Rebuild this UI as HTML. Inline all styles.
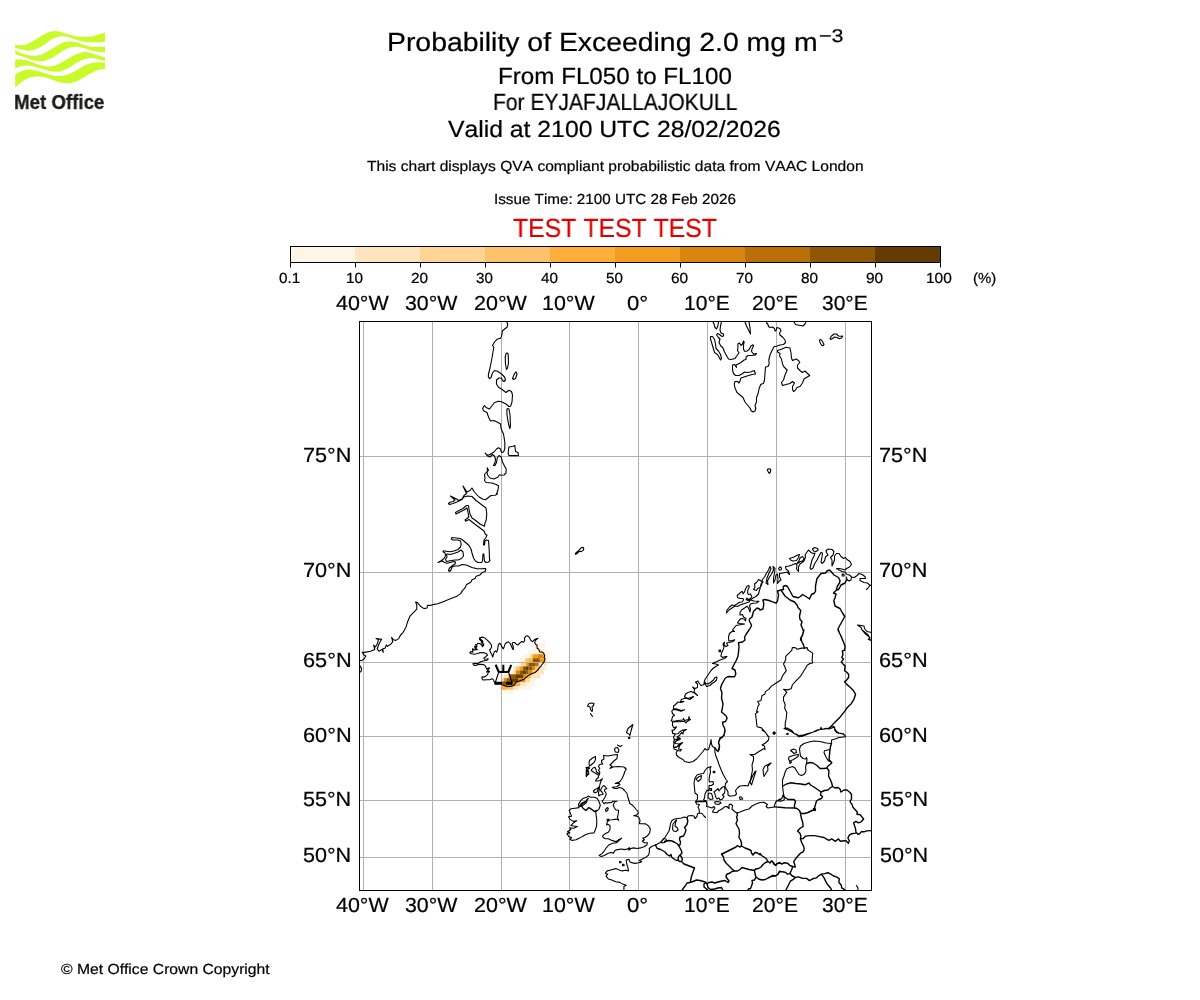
<!DOCTYPE html>
<html lang="en">
<head>
<meta charset="utf-8">
<title>Probability of Exceeding 2.0 mg m-3 - EYJAFJALLAJOKULL</title>
<style>
html,body{margin:0;padding:0;background:#fff;}
body{width:1200px;height:1000px;position:relative;overflow:hidden;font-family:"Liberation Sans",sans-serif;color:#000;}
.t{-webkit-text-stroke:0.22px currentColor;font-kerning:none;text-rendering:geometricPrecision;position:absolute;white-space:nowrap;line-height:1;transform-origin:0 0;will-change:transform;font-family:"Liberation Sans",sans-serif;}
svg{position:absolute;overflow:visible;}
#logo-text{position:absolute;left:13.7px;top:91.02px;font-family:"Liberation Sans",sans-serif;font-weight:bold;font-size:21.00px;line-height:1;letter-spacing:0.000px;color:#1d1d1b;white-space:nowrap;transform-origin:0 0;transform:scaleX(0.8905);-webkit-text-stroke:0.35px #1d1d1b;will-change:transform;}
</style>
</head>
<body>
<svg id="fig" width="1200" height="1000" style="left:0;top:0" viewBox="0 0 1200 1000">
<defs><filter id="lb" x="-5%" y="-5%" width="110%" height="110%"><feGaussianBlur stdDeviation="0.35"/></filter><clipPath id="axclip"><rect x="359.5" y="321.5" width="512.0" height="569.0"/></clipPath></defs>
<g id="logo" fill="#c9fb2c" filter="url(#lb)"><path d="M15.17,44.50C16.39,44.64 19.89,45.71 22.50,45.33C25.11,44.96 28.06,43.60 30.83,42.25C33.61,40.90 36.39,38.85 39.17,37.25C41.94,35.65 45.14,33.68 47.50,32.67C49.86,31.65 51.25,31.33 53.33,31.17C55.42,31.00 57.50,31.14 60.00,31.67C62.50,32.19 65.56,33.54 68.33,34.33C71.11,35.12 73.89,36.00 76.67,36.42C79.44,36.83 82.22,36.90 85.00,36.83C87.78,36.76 90.00,36.72 93.33,36.00C96.67,35.28 103.06,33.08 105.00,32.50L105.00,41.42C103.75,41.56 100.14,42.11 97.50,42.25C94.86,42.39 91.94,42.46 89.17,42.25C86.39,42.04 83.61,41.62 80.83,41.00C78.06,40.38 74.86,39.19 72.50,38.50C70.14,37.81 68.75,37.18 66.67,36.83C64.58,36.49 62.22,36.14 60.00,36.42C57.78,36.69 55.69,37.32 53.33,38.50C50.97,39.68 48.19,41.97 45.83,43.50C43.47,45.03 41.67,46.49 39.17,47.67C36.67,48.85 33.61,50.24 30.83,50.58C28.06,50.93 25.11,50.17 22.50,49.75C19.89,49.33 16.39,48.36 15.17,48.08Z"/><path d="M15.17,50.58C16.39,51.07 19.89,52.67 22.50,53.50C25.11,54.33 28.06,55.31 30.83,55.58C33.61,55.86 36.39,55.86 39.17,55.17C41.94,54.47 44.72,52.88 47.50,51.42C50.28,49.96 53.06,47.94 55.83,46.42C58.61,44.89 61.81,43.08 64.17,42.25C66.53,41.42 67.92,41.42 70.00,41.42C72.08,41.42 74.17,41.62 76.67,42.25C79.17,42.88 82.22,44.40 85.00,45.17C87.78,45.93 90.00,46.56 93.33,46.83C96.67,47.11 103.06,46.83 105.00,46.83L105.00,52.83C103.75,52.67 100.14,52.35 97.50,51.83C94.86,51.32 91.94,50.51 89.17,49.75C86.39,48.99 83.19,47.76 80.83,47.25C78.47,46.74 77.08,46.53 75.00,46.67C72.92,46.81 70.83,47.08 68.33,48.08C65.83,49.08 62.78,51.00 60.00,52.67C57.22,54.33 54.44,56.69 51.67,58.08C48.89,59.47 46.11,60.58 43.33,61.00C40.56,61.42 37.78,61.07 35.00,60.58C32.22,60.10 29.97,59.12 26.67,58.08C23.36,57.04 17.08,54.96 15.17,54.33Z"/><path d="M15.17,59.75C16.39,59.75 19.89,59.40 22.50,59.75C25.11,60.10 28.06,61.00 30.83,61.83C33.61,62.67 36.39,63.99 39.17,64.75C41.94,65.51 44.72,66.35 47.50,66.42C50.28,66.49 53.06,66.07 55.83,65.17C58.61,64.26 61.39,62.53 64.17,61.00C66.94,59.47 69.72,57.39 72.50,56.00C75.28,54.61 78.47,53.29 80.83,52.67C83.19,52.04 84.58,52.04 86.67,52.25C88.75,52.46 90.28,53.08 93.33,53.92C96.39,54.75 103.06,56.69 105.00,57.25L105.00,61.00C103.75,60.65 99.72,59.40 97.50,58.92C95.28,58.43 93.75,58.08 91.67,58.08C89.58,58.08 87.50,58.15 85.00,58.92C82.50,59.68 79.44,61.14 76.67,62.67C73.89,64.19 71.11,66.63 68.33,68.08C65.56,69.54 62.78,70.86 60.00,71.42C57.22,71.97 54.44,71.76 51.67,71.42C48.89,71.07 46.11,70.10 43.33,69.33C40.56,68.57 37.78,67.46 35.00,66.83C32.22,66.21 29.17,65.65 26.67,65.58C24.17,65.51 21.92,65.86 20.00,66.42C18.08,66.97 15.97,68.50 15.17,68.92Z"/><path d="M15.17,74.75C15.97,74.26 18.08,72.67 20.00,71.83C21.92,71.00 24.17,70.03 26.67,69.75C29.17,69.47 32.22,69.68 35.00,70.17C37.78,70.65 40.56,71.83 43.33,72.67C46.11,73.50 48.89,74.61 51.67,75.17C54.44,75.72 57.22,76.14 60.00,76.00C62.78,75.86 65.56,75.31 68.33,74.33C71.11,73.36 73.89,71.69 76.67,70.17C79.44,68.64 82.22,66.42 85.00,65.17C87.78,63.92 90.83,63.15 93.33,62.67C95.83,62.18 98.06,62.25 100.00,62.25C101.94,62.25 104.17,62.60 105.00,62.67L105.00,68.92C103.75,69.12 100.14,69.26 97.50,70.17C94.86,71.07 91.94,72.81 89.17,74.33C86.39,75.86 83.61,77.94 80.83,79.33C78.06,80.72 75.28,82.04 72.50,82.67C69.72,83.29 66.94,83.36 64.17,83.08C61.39,82.81 58.61,81.83 55.83,81.00C53.06,80.17 50.28,78.85 47.50,78.08C44.72,77.32 41.94,76.56 39.17,76.42C36.39,76.28 33.33,76.62 30.83,77.25C28.33,77.88 26.25,78.92 24.17,80.17C22.08,81.42 19.83,83.57 18.33,84.75C16.83,85.93 15.69,86.83 15.17,87.25Z"/></g>
<g id="colorbar">
<rect x="290.0" y="246.5" width="65.2" height="16.0" fill="#fff5e6"/><rect x="355.0" y="246.5" width="65.2" height="16.0" fill="#ffe4bd"/><rect x="420.0" y="246.5" width="65.2" height="16.0" fill="#ffd494"/><rect x="485.0" y="246.5" width="65.2" height="16.0" fill="#ffc16a"/><rect x="550.0" y="246.5" width="65.2" height="16.0" fill="#ffae3c"/><rect x="615.0" y="246.5" width="65.2" height="16.0" fill="#f39c1f"/><rect x="680.0" y="246.5" width="65.2" height="16.0" fill="#d98611"/><rect x="745.0" y="246.5" width="65.2" height="16.0" fill="#ba6f07"/><rect x="810.0" y="246.5" width="65.2" height="16.0" fill="#8f5605"/><rect x="875.0" y="246.5" width="65.2" height="16.0" fill="#633c03"/>
<rect x="290.5" y="246.5" width="650.0" height="16.0" fill="none" stroke="#000" stroke-width="1"/>
<g stroke="#000" stroke-width="1"><line x1="290.5" y1="262.5" x2="290.5" y2="267.5"/><line x1="355.5" y1="262.5" x2="355.5" y2="267.5"/><line x1="420.5" y1="262.5" x2="420.5" y2="267.5"/><line x1="485.5" y1="262.5" x2="485.5" y2="267.5"/><line x1="550.5" y1="262.5" x2="550.5" y2="267.5"/><line x1="615.5" y1="262.5" x2="615.5" y2="267.5"/><line x1="680.5" y1="262.5" x2="680.5" y2="267.5"/><line x1="745.5" y1="262.5" x2="745.5" y2="267.5"/><line x1="810.5" y1="262.5" x2="810.5" y2="267.5"/><line x1="875.5" y1="262.5" x2="875.5" y2="267.5"/><line x1="940.5" y1="262.5" x2="940.5" y2="267.5"/></g>
</g>
<g id="map" clip-path="url(#axclip)">
<defs><filter id="pb" x="-5%" y="-5%" width="110%" height="110%"><feGaussianBlur stdDeviation="0.35"/></filter></defs><g id="plume" filter="url(#pb)"><rect x="540.0" y="641.7" width="5.1" height="4.2" fill="#fff5e6"/><rect x="532.7" y="645.8" width="12.9" height="4.3" fill="#fff5e6"/><rect x="528.0" y="650.0" width="11.1" height="4.3" fill="#fff5e6"/><rect x="539.0" y="650.0" width="5.1" height="4.3" fill="#ffe4bd"/><rect x="544.0" y="650.0" width="5.7" height="4.3" fill="#fff5e6"/><rect x="523.0" y="654.2" width="7.3" height="4.2" fill="#fff5e6"/><rect x="530.2" y="654.2" width="2.5" height="4.2" fill="#ffd494"/><rect x="532.6" y="654.2" width="4.9" height="4.2" fill="#f39c1f"/><rect x="537.4" y="654.2" width="5.5" height="4.2" fill="#d98611"/><rect x="542.8" y="654.2" width="1.3" height="4.2" fill="#ffae3c"/><rect x="544.0" y="654.2" width="3.1" height="4.2" fill="#ffe4bd"/><rect x="547.0" y="654.2" width="1.9" height="4.2" fill="#fff5e6"/><rect x="520.0" y="658.3" width="5.5" height="4.2" fill="#fff5e6"/><rect x="525.4" y="658.3" width="3.1" height="4.2" fill="#ffc16a"/><rect x="528.4" y="658.3" width="4.6" height="4.2" fill="#ffae3c"/><rect x="532.9" y="658.3" width="7.0" height="4.2" fill="#8f5605"/><rect x="539.8" y="658.3" width="4.3" height="4.2" fill="#f39c1f"/><rect x="544.0" y="658.3" width="1.9" height="4.2" fill="#ffd494"/><rect x="545.8" y="658.3" width="2.8" height="4.2" fill="#fff5e6"/><rect x="518.0" y="662.4" width="3.1" height="4.1" fill="#fff5e6"/><rect x="521.0" y="662.4" width="5.1" height="4.1" fill="#ffd494"/><rect x="526.0" y="662.4" width="2.5" height="4.1" fill="#f39c1f"/><rect x="528.4" y="662.4" width="6.7" height="4.1" fill="#8f5605"/><rect x="535.0" y="662.4" width="3.1" height="4.1" fill="#ba6f07"/><rect x="538.0" y="662.4" width="1.6" height="4.1" fill="#f39c1f"/><rect x="539.5" y="662.4" width="4.6" height="4.1" fill="#fff5e6"/><rect x="544.0" y="662.4" width="3.1" height="4.1" fill="#ffe4bd"/><rect x="513.6" y="666.4" width="2.5" height="4.1" fill="#ffe4bd"/><rect x="516.0" y="666.4" width="3.6" height="4.1" fill="#ffc16a"/><rect x="519.5" y="666.4" width="3.6" height="4.1" fill="#f39c1f"/><rect x="523.0" y="666.4" width="3.1" height="4.1" fill="#8f5605"/><rect x="526.0" y="666.4" width="2.6" height="4.1" fill="#633c03"/><rect x="528.5" y="666.4" width="3.6" height="4.1" fill="#8f5605"/><rect x="532.0" y="666.4" width="3.1" height="4.1" fill="#d98611"/><rect x="535.0" y="666.4" width="3.1" height="4.1" fill="#ffc16a"/><rect x="538.0" y="666.4" width="6.1" height="4.1" fill="#ffe4bd"/><rect x="544.0" y="666.4" width="3.1" height="4.1" fill="#fff5e6"/><rect x="509.4" y="670.4" width="4.3" height="4.0" fill="#fff5e6"/><rect x="513.6" y="670.4" width="2.5" height="4.0" fill="#ffd494"/><rect x="516.0" y="670.4" width="4.1" height="4.0" fill="#d98611"/><rect x="520.0" y="670.4" width="3.1" height="4.0" fill="#8f5605"/><rect x="523.0" y="670.4" width="3.5" height="4.0" fill="#633c03"/><rect x="526.4" y="670.4" width="1.7" height="4.0" fill="#8f5605"/><rect x="528.0" y="670.4" width="4.1" height="4.0" fill="#d98611"/><rect x="532.0" y="670.4" width="2.5" height="4.0" fill="#ffc16a"/><rect x="534.4" y="670.4" width="9.7" height="4.0" fill="#ffe4bd"/><rect x="502.0" y="674.3" width="2.1" height="4.0" fill="#fff5e6"/><rect x="504.0" y="674.3" width="4.7" height="4.0" fill="#ffe4bd"/><rect x="508.6" y="674.3" width="1.5" height="4.0" fill="#d98611"/><rect x="510.0" y="674.3" width="6.1" height="4.0" fill="#8f5605"/><rect x="516.0" y="674.3" width="7.1" height="4.0" fill="#633c03"/><rect x="523.0" y="674.3" width="3.1" height="4.0" fill="#d98611"/><rect x="526.0" y="674.3" width="3.9" height="4.0" fill="#ffae3c"/><rect x="529.8" y="674.3" width="2.3" height="4.0" fill="#ffd494"/><rect x="532.0" y="674.3" width="8.1" height="4.0" fill="#ffe4bd"/><rect x="502.0" y="678.2" width="2.1" height="4.0" fill="#ffd494"/><rect x="504.0" y="678.2" width="3.1" height="4.0" fill="#d98611"/><rect x="507.0" y="678.2" width="4.1" height="4.0" fill="#8f5605"/><rect x="511.0" y="678.2" width="7.1" height="4.0" fill="#633c03"/><rect x="518.0" y="678.2" width="7.1" height="4.0" fill="#d98611"/><rect x="525.0" y="678.2" width="5.1" height="4.0" fill="#ffd494"/><rect x="530.0" y="678.2" width="6.1" height="4.0" fill="#fff5e6"/><rect x="502.0" y="682.1" width="4.1" height="4.0" fill="#8f5605"/><rect x="506.0" y="682.1" width="6.1" height="4.0" fill="#ba6f07"/><rect x="512.0" y="682.1" width="4.1" height="4.0" fill="#d98611"/><rect x="516.0" y="682.1" width="4.1" height="4.0" fill="#ffae3c"/><rect x="520.0" y="682.1" width="6.1" height="4.0" fill="#ffe4bd"/><rect x="526.0" y="682.1" width="8.1" height="4.0" fill="#fff5e6"/><rect x="499.2" y="686.0" width="2.9" height="3.9" fill="#fff5e6"/><rect x="502.0" y="686.0" width="5.1" height="3.9" fill="#ffae3c"/><rect x="507.0" y="686.0" width="6.1" height="3.9" fill="#ffc16a"/><rect x="513.0" y="686.0" width="5.1" height="3.9" fill="#ffe4bd"/><rect x="518.0" y="686.0" width="14.1" height="3.9" fill="#fff5e6"/><rect x="504.0" y="689.8" width="8.8" height="3.9" fill="#fff5e6"/></g>
<g stroke="#b0b0b0" stroke-width="1" fill="none"><line x1="363.5" y1="321.5" x2="363.5" y2="890.5"/><line x1="432.5" y1="321.5" x2="432.5" y2="890.5"/><line x1="501.5" y1="321.5" x2="501.5" y2="890.5"/><line x1="569.5" y1="321.5" x2="569.5" y2="890.5"/><line x1="638.5" y1="321.5" x2="638.5" y2="890.5"/><line x1="707.5" y1="321.5" x2="707.5" y2="890.5"/><line x1="776.5" y1="321.5" x2="776.5" y2="890.5"/><line x1="845.5" y1="321.5" x2="845.5" y2="890.5"/><line x1="359.5" y1="456.5" x2="871.5" y2="456.5"/><line x1="359.5" y1="572.5" x2="871.5" y2="572.5"/><line x1="359.5" y1="662.5" x2="871.5" y2="662.5"/><line x1="359.5" y1="736.5" x2="871.5" y2="736.5"/><line x1="359.5" y1="800.5" x2="871.5" y2="800.5"/><line x1="359.5" y1="857.5" x2="871.5" y2="857.5"/></g>
<g fill="none" stroke="#000" stroke-width="1.1" stroke-linejoin="round" stroke-linecap="round">
<path d="M506.5,321.6 507.8,324.0 507.2,327.0 502.5,330.7 501.5,336.5 500.5,338.2 497.0,339.3 494.5,342.0 492.5,345.5 493.8,347.0 492.2,357.0 490.0,368.0 488.5,374.0 488.3,376.5 489.5,378.7 491.0,377.5 492.5,373.0 494.5,370.5 497.5,371.3 501.5,374.0 504.5,377.0 505.5,380.0 504.0,381.5 502.5,380.5 501.5,378.0 499.0,378.0 496.5,380.0 496.5,384.0 498.5,387.2 501.5,389.0 504.0,391.0 506.0,392.5 509.0,390.2 511.5,391.5 512.5,395.0 512.0,402.0 510.5,406.2 509.0,406.5 506.0,404.0 501.5,401.8 498.5,401.2 494.5,402.5 489.5,409.0 486.0,407.5 484.5,405.5 482.5,408.5 484.0,411.0 487.0,412.5 487.8,415.0 M507.0,352.8 508.2,354.0 508.5,363.0 507.5,368.0 506.5,369.5 505.5,364.0 505.2,357.0 506.0,354.0Z M516.0,371.8 517.0,374.0 515.5,378.5 513.5,379.5 512.5,378.5 514.5,373.5Z M487.8,415.0 489.0,418.0 490.5,421.0 494.0,420.5 498.0,422.5 500.5,424.0 501.2,429.0 503.5,434.0 504.8,442.0 504.8,449.0 503.5,452.0 501.5,452.5 500.5,449.0 498.5,447.8 496.5,449.0 494.0,452.0 491.5,453.5 489.0,455.0 487.0,454.8 485.2,453.2 487.5,456.0 490.0,457.0 492.5,454.5 494.5,456.0 495.5,459.0 495.0,462.5 493.5,465.5 495.0,465.5 496.5,462.5 497.2,458.0 499.0,455.5 501.2,457.0 502.5,462.0 504.5,466.0 506.2,469.0 506.0,473.0 504.0,475.0 501.5,475.2 499.5,474.8 498.0,477.0 494.0,479.0 490.0,478.0 487.5,475.0 487.0,472.5 488.5,470.0 487.2,467.8 487.5,471.0 484.5,474.5 485.0,478.0 484.5,480.5 486.0,482.5 492.0,483.0 496.0,484.5 498.5,485.8 498.0,490.0 496.5,494.0 M507.5,408.5 509.0,409.0 510.0,415.0 510.5,426.0 509.8,428.5 508.5,424.0 507.0,415.0 506.8,410.0Z M509.0,447.0 513.0,446.2 514.8,445.5 515.5,451.5 518.0,452.5 518.5,455.8 515.0,455.6 509.0,455.6 508.2,454.0 508.5,449.0Z M497.5,494.0 495.0,495.2 491.0,495.5 485.5,499.8 483.0,499.2 479.0,497.0 474.0,491.5 472.0,488.0 470.0,490.5 467.0,492.0 463.0,486.0 466.5,493.5 464.0,495.5 462.0,499.0 458.5,500.5 456.5,499.0 450.5,496.0 455.0,500.0 453.0,501.5 450.0,502.2 448.5,503.5 449.5,504.5 453.0,503.5 458.0,501.5 462.0,499.5 464.0,497.0 467.5,496.0 472.0,496.5 476.0,500.5 482.0,505.0 486.0,508.0 486.8,514.0 486.2,520.0 485.0,523.0 484.5,526.2 480.0,524.0 475.0,520.0 472.0,518.0 470.0,514.0 469.0,509.0 468.5,505.5 466.5,505.5 463.0,508.5 459.0,510.5 455.5,512.5 456.0,514.0 460.0,512.0 464.0,510.0 467.0,508.0 468.0,512.0 468.8,517.0 467.0,518.5 465.0,520.0 465.8,521.2 468.0,520.0 469.0,519.5 474.0,523.5 480.0,528.0 484.0,531.0 485.5,534.5 487.0,535.0 486.0,537.5 484.0,540.0 483.5,545.0 484.5,545.0 485.0,541.0 486.5,540.0 488.5,540.5 489.2,550.0 489.5,559.0 490.0,560.5 488.5,562.0 486.0,562.5 484.5,561.0 483.8,554.0 483.0,554.0 482.5,561.0 481.5,562.5 478.0,562.5 475.5,561.0 473.5,558.0 472.0,553.0 471.0,549.0 469.0,545.5 465.0,542.0 462.0,539.5 460.0,538.5 456.0,538.0 452.0,537.5 451.2,539.0 453.0,540.0 458.0,540.0 460.5,541.0 461.2,544.0 460.5,547.0 458.0,549.5 454.0,551.0 450.0,551.8 446.0,551.2 443.5,550.8 443.0,551.8 445.0,553.0 445.5,556.0 444.0,558.5 441.5,560.5 438.0,562.5 442.5,561.0 444.5,562.5 447.0,563.2 450.0,562.5 454.0,561.5 455.5,562.0 455.0,564.0 452.0,565.8 449.5,568.0 448.5,570.5 449.5,571.5 451.0,570.0 452.0,567.0 454.5,566.0 458.5,566.0 462.0,564.5 465.0,564.8 468.0,565.8 472.0,567.5 477.0,568.8 482.0,568.8 485.5,568.5 M447.0,554.0 450.0,554.5 454.0,553.5 458.0,552.0 461.0,550.0 463.0,552.0 463.5,556.0 461.5,558.5 458.0,560.0 455.0,560.0 450.0,560.8 446.5,561.5 445.5,559.5 447.0,557.0 446.5,554.5Z M485.8,569.0 485.2,571.4 482.2,572.6 479.8,575.0 476.2,576.2 475.0,578.6 472.0,579.8 470.8,582.2 466.6,584.6 464.8,588.2 462.4,590.6 460.6,593.6 456.4,596.6 451.0,598.6 443.8,601.4 437.8,603.8 433.0,604.6 430.6,605.4 427.6,605.4 427.0,608.0 424.0,608.6 420.4,606.2 417.4,602.6 415.6,602.0 416.8,605.0 416.8,609.2 414.4,611.6 410.2,615.8 407.8,621.2 406.0,627.2 403.0,632.6 400.6,635.0 398.8,638.6 395.8,640.4 393.4,639.8 391.6,637.4 392.8,641.6 391.0,644.0 387.4,646.4 386.4,645.0 385.0,648.2 382.8,648.8 383.2,652.4 382.0,649.4 379.0,651.2 377.2,648.8 379.0,644.0 381.6,639.2 376.0,638.6 378.4,639.8 377.2,644.0 375.4,647.0 373.6,645.2 374.8,649.4 370.6,651.2 364.6,652.4 362.2,652.4 364.0,654.8 365.8,656.0 364.0,659.0 362.2,660.2 359.8,660.6 M359.8,665.6 361.6,668.6 361.0,671.6 359.8,672.2 M479.6,637.9 482.5,637.1 484.6,637.9 487.5,640.4 489.6,642.5 491.2,644.6 491.7,646.7 490.4,649.2 489.6,649.6 490.4,652.1 492.1,655.0 492.7,657.1 493.3,655.0 494.2,652.1 495.4,650.8 496.7,652.1 497.9,648.3 498.3,644.6 499.6,643.3 500.8,644.2 501.7,646.7 503.3,648.8 504.2,646.7 505.0,644.2 506.7,642.5 508.3,641.8 510.0,643.3 511.2,645.8 512.5,648.8 513.3,649.6 513.3,646.7 512.1,643.8 512.9,642.5 514.6,642.5 516.7,644.6 517.9,645.0 520.0,642.9 521.7,641.5 523.3,642.3 524.6,640.8 524.6,637.9 525.8,636.2 527.5,635.8 529.2,637.1 530.8,640.4 532.5,641.7 534.6,639.6 537.9,638.3 535.4,640.4 534.6,642.5 535.8,644.6 537.1,645.0 537.1,648.3 538.8,649.2 539.6,651.7 542.1,652.1 543.8,653.3 544.6,655.8 544.2,657.5 545.0,659.2 544.2,661.7 542.5,663.8 541.2,665.8 539.2,667.9 537.9,670.0 535.0,672.5 531.7,673.8 528.3,675.4 525.8,677.9 523.3,679.6 520.0,680.8 516.7,682.1 515.0,683.3 513.8,685.4 510.8,686.5 507.5,686.7 504.6,685.8 502.5,684.6 501.2,683.3 500.0,683.8 495.8,683.8 494.6,682.5 493.3,679.6 492.1,678.8 490.0,679.6 486.7,679.8 482.9,680.0 481.8,678.3 482.1,676.7 484.2,677.1 485.8,676.2 487.5,674.6 488.3,672.1 489.6,671.7 488.3,670.8 486.7,672.1 487.9,670.0 489.6,667.9 487.9,668.3 486.7,669.2 485.8,667.1 485.0,665.4 483.3,664.6 480.8,664.2 477.9,664.6 475.8,665.4 474.2,665.4 472.9,663.8 474.6,663.3 477.9,663.5 480.8,661.7 484.2,660.8 487.1,660.2 488.3,658.8 486.7,659.0 484.6,659.2 483.8,657.9 485.8,656.7 487.5,655.0 486.7,653.8 484.6,652.9 481.7,652.5 479.2,652.9 476.7,653.8 474.2,654.2 471.7,653.8 469.8,652.9 470.8,651.5 472.9,652.1 472.5,649.6 474.6,650.0 476.7,649.6 475.0,648.3 474.6,646.2 476.2,646.7 476.7,644.6 477.9,643.3 480.0,643.8 481.7,645.0 482.5,646.7 483.8,645.0 482.5,642.5 481.2,640.8 479.6,639.6Z M713.0,321.8 714.0,324.0 715.0,327.5 716.5,329.0 718.0,325.5 718.5,321.8 M721.5,321.8 720.5,326.0 720.0,330.0 721.0,333.0 723.5,334.0 723.5,336.0 722.0,336.5 719.5,334.5 717.5,333.5 716.5,335.0 718.5,337.5 720.0,339.0 719.0,342.5 720.5,345.5 723.0,348.0 724.5,352.0 726.5,355.5 728.5,359.0 731.0,359.5 735.0,358.5 737.0,355.5 739.0,353.0 737.5,350.5 738.0,347.0 737.8,344.0 739.5,343.0 741.0,345.5 742.5,344.0 743.5,341.0 744.2,342.0 743.5,345.0 743.5,349.0 744.5,351.2 747.0,351.2 749.0,349.5 751.0,346.0 753.0,344.8 753.5,346.0 752.0,349.0 751.5,351.5 753.5,354.0 756.5,353.5 755.0,355.0 752.0,355.5 748.0,355.5 746.0,357.0 746.0,359.5 744.0,360.0 741.0,362.5 738.0,364.0 736.0,365.0 736.5,367.5 734.5,364.5 732.5,365.0 732.5,370.0 733.5,373.5 735.5,375.5 739.0,375.5 742.0,374.0 744.5,372.0 747.0,372.5 750.5,372.0 754.3,370.5 755.5,374.0 752.0,374.5 747.0,376.0 741.0,378.0 740.0,381.0 739.0,383.0 737.5,381.5 735.0,381.5 734.2,384.0 735.0,388.0 737.0,392.5 740.0,395.0 743.0,397.5 745.0,402.0 747.5,405.0 750.0,408.0 751.0,410.5 753.0,412.0 755.0,411.0 755.8,408.5 755.0,405.5 756.5,402.0 756.5,397.5 758.0,394.0 759.0,389.0 760.5,385.0 761.5,384.0 763.5,383.5 764.5,380.0 765.0,373.0 765.5,367.0 768.0,366.5 769.2,364.0 768.8,360.0 770.0,355.0 772.0,350.5 774.0,346.8 776.5,346.2 780.0,345.0 783.5,344.5 785.5,342.5 785.0,340.0 783.0,337.5 780.0,335.0 779.5,333.0 781.0,331.0 780.0,328.5 777.0,327.5 776.0,330.5 775.0,331.0 774.5,328.5 772.5,327.0 770.0,327.5 768.5,326.5 768.0,324.5 766.5,323.0 767.0,321.8 M777.5,350.5 782.0,349.0 786.0,347.2 790.0,348.0 791.0,353.0 791.5,358.0 792.5,360.5 796.0,359.0 798.5,360.5 799.8,362.5 797.5,365.0 797.5,368.0 800.0,370.5 802.5,372.5 805.0,371.0 807.5,373.5 809.8,375.5 804.0,379.0 802.5,383.0 800.0,386.5 797.0,387.5 795.0,390.5 793.5,391.5 792.5,389.5 792.5,386.5 794.5,383.0 792.5,381.5 790.0,383.5 786.0,384.5 782.5,385.5 781.5,382.5 783.5,380.0 785.0,375.0 787.2,370.0 784.0,367.0 782.5,364.0 781.5,359.0 779.5,356.0 780.0,353.5 777.5,352.0Z M710.5,336.5 712.5,336.5 714.5,339.5 715.5,344.0 716.0,348.5 718.5,351.0 720.5,354.5 721.5,358.5 720.5,360.0 719.0,357.0 717.5,354.5 714.5,352.5 713.5,349.0 712.0,344.0 710.5,339.0Z M745.0,321.8 746.5,326.0 748.5,330.0 750.5,334.0 750.0,328.0 749.0,321.8 M794.0,321.8 795.5,324.5 799.0,325.2 803.0,326.0 805.0,324.0 806.0,321.8 M820.0,339.5 821.5,340.0 823.0,342.5 824.0,344.5 823.0,345.8 821.5,345.0 820.0,342.5 819.5,340.5Z M830.0,338.5 831.5,336.0 834.0,334.0 836.5,334.0 838.5,336.0 841.0,336.2 842.8,336.0 841.5,338.0 839.5,338.8 837.0,337.5 834.5,337.0 832.5,338.5 831.0,339.5Z M575.4,554.0 575.8,554.4 577.6,553.0 579.6,551.2 581.2,551.6 583.2,550.4 583.8,548.8 583.4,547.6 582.2,547.4 580.8,548.0 579.8,549.4 577.6,551.4 575.8,553.0Z M767.4,469.2 769.0,468.8 770.6,469.2 770.6,471.6 769.4,473.4 768.2,471.8 767.4,470.0Z M480.0,638.8 482.1,640.4 481.2,642.1 483.3,643.8 482.5,645.8 M475.4,644.6 477.1,646.2 475.8,648.3 477.5,649.6 M472.5,648.8 474.3,649.7 M481.2,639.6 482.9,641.2 481.8,643.3 M760.0,589.0 761.0,584.0 763.0,582.0 762.0,580.0 764.5,577.0 766.0,574.0 768.5,570.0 770.0,566.5 771.0,569.0 769.0,573.0 767.0,578.0 766.0,583.0 768.0,584.5 767.5,581.0 769.5,577.0 771.5,574.0 773.5,570.0 773.0,566.5 775.0,568.5 774.5,573.0 773.5,578.0 773.5,583.0 775.0,580.0 776.0,575.0 777.5,574.0 778.0,579.0 777.5,583.5 779.5,581.0 781.0,580.0 779.5,577.0 779.5,573.5 783.0,573.0 787.0,572.0 789.5,574.5 788.5,571.0 786.0,569.0 785.5,566.5 789.0,566.0 792.0,565.0 795.5,563.5 797.0,565.0 796.5,569.0 798.5,571.5 798.5,567.0 800.0,564.0 804.0,561.0 805.5,557.0 805.0,555.0 807.0,552.0 808.5,550.0 811.0,552.5 813.0,553.5 815.0,553.0 814.0,556.0 812.0,560.0 811.0,564.0 810.0,568.0 811.0,569.5 813.0,568.0 814.5,564.0 817.0,560.0 819.0,556.0 821.0,552.5 822.5,553.0 822.0,557.0 821.0,562.0 822.0,563.5 824.5,561.0 825.5,557.0 828.0,555.0 826.5,552.5 826.0,550.5 828.5,549.0 832.0,549.5 834.0,551.5 833.0,555.0 830.5,557.5 832.0,560.0 832.0,566.0 833.0,564.0 834.5,560.0 834.5,556.0 836.5,553.5 839.0,553.5 841.0,556.5 843.5,558.5 845.5,557.5 847.0,559.5 850.0,561.5 851.5,564.5 849.5,567.0 846.5,568.5 845.0,570.0 842.0,569.0 839.0,568.5 836.5,568.5 839.0,570.0 842.0,571.5 845.0,572.0 847.0,574.5 849.5,575.0 851.5,577.0 854.5,577.5 857.0,575.5 859.0,573.5 862.0,574.5 865.0,576.5 865.5,578.5 863.0,578.5 860.0,578.5 860.0,580.5 864.0,582.5 867.5,583.0 870.0,585.5 871.5,585.0 M851.5,577.0 851.0,580.0 849.0,581.0 847.0,579.5 846.5,577.0 M870.0,585.5 868.0,588.0 866.5,589.5 M812.5,549.0 814.5,547.5 817.5,548.5 818.2,550.0 816.0,551.5 813.5,551.0Z M789.5,558.5 794.0,557.0 797.5,555.0 799.5,554.5 798.5,557.5 796.5,560.5 793.0,561.0 790.5,560.0Z M800.0,558.0 802.5,556.5 804.0,558.5 802.5,561.0 800.0,561.5 798.5,563.0 797.0,563.5 799.0,560.5Z M778.5,568.5 780.0,566.8 781.5,568.0 781.2,569.8 779.5,570.2Z M842.2,574.0 844.0,574.0 844.0,576.0 842.2,576.0Z M871.5,632.5 867.0,631.5 864.5,628.5 864.0,626.0 861.0,625.5 857.5,625.0 861.0,627.5 862.0,630.0 865.0,633.5 868.0,636.0 870.0,637.5 869.0,639.5 871.5,640.0 M760.0,589.0 759.5,590.0 758.5,594.0 756.0,596.5 753.0,598.0 750.5,600.0 754.0,601.0 759.0,601.2 756.5,603.0 753.0,603.2 750.5,604.0 749.5,606.0 750.5,609.0 750.0,612.0 748.5,608.0 747.0,606.2 744.5,608.0 741.5,610.0 740.0,612.5 740.0,615.0 742.5,614.5 743.5,617.0 746.0,618.5 745.5,621.0 744.0,619.0 741.0,618.5 739.0,620.5 737.5,623.0 740.0,623.5 744.5,624.0 740.0,624.8 736.0,625.5 734.0,628.0 732.5,630.0 734.5,631.5 732.0,631.5 729.5,633.5 728.5,637.0 728.8,641.0 732.0,640.5 734.8,639.8 733.0,641.5 729.0,642.5 726.5,643.0 728.0,645.5 726.0,646.5 724.0,645.0 724.5,642.0 723.0,644.0 724.0,647.0 723.0,650.0 721.5,653.0 721.0,656.0 722.5,657.5 725.5,656.5 727.0,656.5 724.5,658.5 721.5,659.5 720.0,660.0 M726.5,613.0 727.0,610.0 729.5,607.0 732.0,605.0 734.5,605.5 737.0,604.0 739.0,602.5 742.0,602.0 743.5,600.0 743.0,598.5 740.0,598.5 737.5,597.5 737.2,595.5 739.0,594.0 741.0,592.0 742.5,591.5 743.0,594.0 744.5,592.0 745.5,589.0 747.0,586.2 748.8,585.5 749.3,587.0 748.0,589.5 747.5,593.0 748.5,594.5 750.5,594.0 751.8,596.5 750.5,598.5 748.0,599.5 747.0,598.0 746.0,599.5 748.0,600.5 750.5,599.5 749.0,602.0 746.0,603.0 743.0,604.0 740.0,605.0 737.5,606.5 735.0,606.0 732.0,608.0 729.0,610.0Z M753.5,589.5 755.0,587.0 754.5,584.0 756.5,582.5 758.5,579.5 761.0,581.0 762.0,582.5 761.5,585.5 760.0,587.5 757.5,588.5 756.5,590.5Z M719.0,650.0 720.6,650.0 720.6,651.6 719.0,651.6Z M720.0,660.0 717.0,661.5 714.5,662.5 712.5,663.5 716.0,664.0 718.5,665.0 716.5,666.0 713.5,668.0 711.0,670.5 709.0,673.5 707.0,676.5 705.0,679.5 704.2,682.0 705.5,684.5 706.5,686.5 710.0,685.5 712.0,683.5 714.5,682.0 716.5,680.0 717.0,677.0 715.0,677.5 713.5,680.0 711.0,682.0 708.0,684.0 706.0,683.5 704.5,682.0 M704.0,684.5 701.0,685.5 699.0,683.0 698.0,681.0 695.5,682.0 697.5,684.0 697.5,687.5 695.0,688.5 692.5,687.0 694.5,689.5 694.0,692.0 697.5,695.5 694.5,693.0 691.0,691.5 688.0,692.5 685.5,694.0 684.5,697.0 688.0,698.5 693.5,696.5 690.0,699.5 687.0,698.5 684.0,698.5 681.5,699.5 680.5,701.5 684.0,701.5 681.0,702.5 678.0,702.0 675.5,704.5 673.5,706.0 673.5,708.5 677.0,709.0 681.0,710.5 684.5,709.8 681.0,711.2 677.0,710.0 673.0,709.5 671.8,711.0 672.5,713.5 674.5,715.5 672.5,716.5 672.0,719.0 671.2,721.0 674.0,721.2 678.0,720.5 683.0,720.0 683.5,718.5 684.5,720.5 688.5,719.5 689.0,716.5 689.5,719.0 690.5,719.5 687.0,721.5 686.0,723.0 684.5,721.2 680.0,721.8 676.0,721.8 672.5,722.0 672.5,725.5 674.0,728.0 676.5,726.8 674.5,729.5 672.5,730.5 672.5,733.5 675.0,734.0 678.0,733.8 680.0,731.5 683.0,730.0 686.5,729.5 683.5,731.2 683.0,734.0 681.5,732.5 679.5,735.5 677.0,737.0 680.0,738.0 677.5,739.5 674.5,740.0 673.5,742.0 675.5,743.5 679.0,744.0 682.5,742.5 680.0,745.0 677.5,746.5 674.5,747.5 673.5,746.0 674.0,749.0 677.0,750.0 M704.2,682.0 704.0,684.5 M672.0,730.0 672.5,733.0 675.5,734.0 673.5,737.0 674.5,740.0 678.0,738.5 680.5,739.0 676.5,741.0 674.0,743.0 673.5,747.0 676.0,747.5 679.5,744.5 682.5,742.5 679.5,746.0 678.5,749.0 681.5,749.5 680.5,751.0 677.5,750.5 676.2,752.5 676.5,755.0 679.0,757.5 683.0,759.5 684.5,761.5 689.0,762.5 693.0,761.5 696.5,759.0 700.0,755.0 703.0,751.5 705.0,748.5 706.5,750.0 708.5,749.5 709.5,746.5 710.5,743.0 711.0,739.5 711.5,744.0 712.5,746.5 715.0,748.0 714.8,751.0 715.5,755.0 717.5,760.0 719.0,764.5 721.0,769.5 723.5,775.0 726.0,779.5 727.5,781.5 725.5,783.5 725.0,787.0 726.5,789.0 728.0,792.0 728.0,795.0 730.0,796.2 735.0,795.5 736.5,794.0 735.5,790.5 737.5,788.0 740.0,786.0 745.0,785.5 748.0,786.0 749.0,783.0 750.5,780.0 751.5,775.0 752.5,770.0 752.0,765.0 753.5,760.0 753.5,756.5 750.0,754.5 754.5,754.5 759.0,751.5 764.0,748.5 765.0,749.5 764.5,746.0 762.0,745.0 765.5,743.0 768.5,740.0 769.0,737.0 767.0,734.5 765.0,732.0 762.0,730.0 M756.0,771.0 754.0,777.0 751.5,785.0 750.0,782.0 752.5,776.0 755.0,771.5Z M771.0,763.0 768.0,764.5 765.0,766.0 763.0,769.5 763.5,774.0 764.0,776.5 766.0,773.0 768.0,770.0 767.5,766.5Z M739.5,797.0 741.5,797.0 742.8,799.0 740.0,799.5Z M713.2,771.5 714.8,771.2 714.8,772.6 713.2,772.8Z M773.4,733.0 774.6,732.8 774.7,734.0 773.5,734.1Z M695.5,801.5 697.5,799.0 697.5,795.0 695.0,793.0 694.5,788.0 694.0,783.0 695.0,778.0 697.0,775.0 700.0,774.0 703.5,773.5 705.0,770.5 707.0,768.0 711.0,766.5 710.0,769.0 710.5,772.0 709.5,776.0 709.0,780.0 709.5,782.0 713.0,781.5 713.5,784.0 711.5,785.5 709.0,785.5 709.0,788.5 708.5,791.0 707.0,790.0 705.0,794.0 704.5,798.0 703.5,800.0 706.0,801.0 707.0,804.5 706.5,806.5 709.0,807.0 712.0,808.0 714.0,806.5 715.0,808.0 713.5,810.0 712.5,812.0 714.5,812.5 717.0,812.5 719.0,810.5 722.0,809.0 724.5,806.8 727.0,806.5 729.0,808.5 729.0,805.0 730.5,804.0 732.5,805.5 732.0,809.0 734.5,811.5 737.0,813.0 740.0,812.0 745.0,810.0 749.0,809.0 752.0,806.0 756.0,804.0 760.0,802.5 764.0,802.2 766.0,803.5 767.5,804.5 766.0,806.5 768.0,808.0 771.0,807.5 774.0,807.0 775.0,804.0 776.0,801.5 780.0,799.0 M696.0,779.0 698.5,777.0 701.5,775.5 701.0,779.0 698.0,781.5Z M708.5,793.0 711.5,793.5 712.5,796.5 713.0,799.0 710.5,799.5 708.0,798.0Z M710.0,788.5 711.6,788.5 711.6,790.5 710.0,790.5Z M714.0,792.0 716.5,790.0 718.0,788.5 719.0,791.0 720.5,789.0 722.5,787.0 724.5,786.5 725.0,790.0 724.5,793.0 722.5,795.0 724.0,796.5 722.5,799.0 720.0,800.0 719.0,798.0 717.0,799.0 715.5,796.5 715.0,794.0Z M714.5,802.0 717.0,801.5 720.0,802.0 721.0,803.0 718.5,804.5 715.5,804.0Z M768.1,736.5 765.4,732.3 761.5,727.9 757.1,726.8 756.0,718.0 755.5,713.6 758.2,711.9 756.6,711.9 757.7,707.0 759.3,704.2 757.7,701.5 761.0,700.4 762.1,695.4 764.8,694.3 765.4,691.6 768.7,689.4 771.4,686.1 775.8,683.3 780.8,680.0 783.0,675.1 786.3,670.7 784.6,666.3 783.5,664.1 785.7,659.7 785.7,656.4 788.5,653.6 791.8,650.3 792.3,647.6 795.1,647.6 797.3,649.2 801.7,648.1 804.4,648.1 807.2,647.6 807.7,649.8 812.7,653.1 812.1,660.2 812.7,663.0 809.9,663.5 807.2,665.2 805.0,669.0 800.6,676.2 796.2,680.6 792.3,685.0 791.2,688.8 787.4,689.9 783.5,689.4 786.8,692.1 783.5,697.1 783.5,700.4 785.2,704.8 784.6,708.1 786.8,712.5 786.3,718.0 785.2,723.5 785.2,727.9 787.9,728.4 791.8,730.6 794.0,733.4 797.3,734.5 798.4,736.7 802.8,736.1 808.3,733.9 813.8,731.7 817.1,730.1 820.4,729.5 820.9,727.3 822.0,729.5 825.9,728.4 828.6,729.0 831.9,727.9 834.7,727.3 834.7,730.1 836.9,732.8 840.2,733.4 843.5,733.9 845.5,736.5 M773.1,732.5 774.6,731.8 775.5,733.4 774.2,734.3 773.1,733.7Z M786.7,733.6 788.1,733.3 788.2,734.2 786.8,734.4Z M862.2,630.0 865.5,632.7 868.2,634.9 869.9,638.2 868.2,639.3 871.0,640.4 M784.0,728.5 788.0,730.0 792.0,732.0 795.0,734.0 798.0,735.5 803.0,735.0 810.0,733.0 815.0,731.5 820.0,729.5 825.0,729.0 829.0,728.0 832.0,726.0 834.0,726.5 835.0,729.0 836.5,731.5 839.0,733.0 842.0,733.5 845.0,735.5 845.5,736.8 839.0,737.5 835.0,739.0 831.5,740.0 831.5,743.5 826.0,743.0 820.0,741.5 814.0,741.0 809.0,742.0 804.0,743.5 800.5,746.0 799.5,749.0 800.0,753.0 800.5,756.0 803.0,758.5 805.5,759.0 806.5,757.5 807.0,759.5 806.5,763.5 805.5,767.0 806.0,771.0 804.5,774.0 801.5,775.5 799.0,774.5 797.0,771.5 795.0,768.0 792.5,766.5 789.5,767.5 786.5,769.0 785.0,772.5 784.0,776.0 782.5,780.0 782.5,786.0 783.0,790.0 783.5,794.0 782.0,798.0 780.0,800.0 M783.5,794.0 784.2,796.5 784.2,800.0 780.8,801.2 776.7,800.8 M789.0,757.0 791.5,756.0 795.0,755.0 798.5,754.5 798.0,756.5 795.0,758.5 792.5,760.0 790.5,760.5 791.5,762.0 790.0,763.5 789.5,761.0 788.5,759.0Z M790.5,750.5 793.5,749.0 796.0,750.0 796.5,752.5 794.0,753.5 792.5,752.0Z M830.0,749.5 824.5,750.8 824.0,752.5 826.0,757.0 828.0,760.5 829.5,761.5 M587.5,706.0 589.0,703.5 592.0,703.0 594.0,703.5 593.5,705.5 592.0,707.0 592.5,709.5 592.0,711.5 590.5,709.5 590.0,707.0Z M590.5,713.5 592.5,716.5 M626.5,732.5 628.0,728.5 630.5,726.5 633.0,724.5 632.0,727.5 631.0,731.0 630.0,735.5 629.0,734.0 628.0,733.5Z M628.6,737.2 629.8,737.2 629.8,738.4 628.6,738.4Z M615.0,748.0 617.5,747.5 619.0,750.0 618.0,752.5 615.5,752.0 614.5,750.0Z M617.5,745.0 620.0,746.5 622.0,745.5 M602.0,764.0 601.5,760.5 604.0,759.0 603.5,755.5 608.0,756.0 613.0,755.0 617.5,754.5 617.0,758.5 614.5,760.5 611.5,763.5 610.0,765.0 612.0,766.5 610.0,768.5 613.0,767.0 618.0,766.5 624.0,767.0 626.0,769.5 M602.0,760.0 601.5,762.5 602.8,764.0 599.5,764.5 598.5,766.5 599.8,768.5 598.5,770.0 599.8,772.0 599.5,774.5 598.5,776.0 598.2,777.8 596.5,779.0 595.5,781.0 597.5,781.0 600.0,780.5 602.5,778.8 601.0,781.0 600.0,784.0 599.5,787.0 599.2,790.0 598.5,793.0 598.8,796.0 600.0,795.0 602.0,794.5 603.2,794.0 602.0,792.0 600.5,790.5 601.5,788.0 603.5,785.5 605.2,786.5 606.8,788.8 605.0,789.0 604.5,791.0 606.0,793.0 606.2,794.5 604.8,797.5 603.2,800.0 602.2,801.2 604.0,803.8 605.5,802.5 607.2,803.2 609.0,802.5 611.0,802.8 613.0,801.2 617.0,801.2 615.0,801.8 613.8,803.5 613.2,805.5 614.5,808.0 616.0,810.0 M625.5,767.8 626.2,769.5 624.8,771.5 623.5,775.5 622.0,778.5 620.2,781.2 618.5,782.2 615.2,783.5 619.0,783.2 620.0,784.5 618.5,785.5 616.8,786.8 612.2,787.2 614.5,788.5 617.0,788.5 619.5,787.5 622.0,788.2 624.5,790.5 627.0,793.5 627.8,797.0 628.8,800.0 629.8,803.5 632.5,805.2 635.0,808.0 636.5,810.0 M591.2,770.0 593.0,768.0 595.0,767.2 596.0,769.5 596.5,772.0 598.5,773.0 597.8,774.8 596.0,773.5 594.2,772.5 591.5,770.8Z M593.5,791.0 595.0,789.5 597.0,788.8 598.8,787.0 598.0,789.5 597.0,792.0 595.0,792.8 593.5,791.8Z M580.0,805.0 582.0,803.0 585.0,801.8 587.0,801.2 586.0,803.0 584.0,804.5 581.5,806.0 580.0,806.5Z M586.0,767.5 589.0,767.0 589.5,768.5 587.0,769.0Z M586.8,771.0 588.5,770.8 588.8,774.0 587.5,775.0 586.0,776.0 587.0,773.5Z M589.5,760.5 592.5,758.0 595.5,756.5 595.5,759.5 594.0,762.5 591.0,765.0 589.5,766.0 589.0,763.5Z M586.5,767.5 589.0,768.0 587.5,770.0 587.0,773.0 587.5,775.0 586.5,776.5 586.2,773.0Z M637.7,810.5 638.2,813.4 636.5,815.1 633.6,815.7 637.1,816.2 638.8,817.4 640.0,820.3 639.4,823.7 641.7,823.7 645.7,823.9 648.6,826.0 650.3,828.9 649.7,832.9 647.4,835.8 645.1,837.5 642.8,838.1 644.6,839.8 642.3,841.0 644.0,842.7 647.4,842.7 646.9,845.0 644.0,846.7 640.5,847.9 637.1,848.5 633.6,847.9 630.8,848.5 627.3,849.0 624.4,849.6 621.6,849.0 617.5,849.6 615.2,850.2 613.5,853.1 610.6,852.5 607.7,853.6 604.3,855.4 601.4,856.5 599.1,855.4 602.0,853.6 604.3,850.8 606.6,847.3 609.5,844.4 612.9,843.3 616.4,842.7 619.3,840.4 621.6,838.1 618.7,839.8 615.8,841.6 611.8,840.4 608.3,838.7 605.4,838.7 603.1,837.5 602.6,835.8 605.4,833.5 608.3,832.3 610.0,829.5 610.0,825.4 607.7,824.3 606.6,824.9 607.2,822.0 608.3,820.0 612.3,819.7 616.4,819.1 618.7,820.3 617.5,817.4 618.1,814.5 618.7,810.5 617.0,809.9 M605.4,809.9 607.2,807.6 608.3,808.2 607.7,810.5 606.0,811.6Z M606.9,819.7 608.3,819.1 609.2,820.5 607.7,821.4Z M627.9,848.5 629.6,847.7 630.4,849.0 629.0,850.2Z M578.4,804.2 580.7,800.7 583.0,798.4 586.5,797.3 588.2,796.1 590.5,797.3 594.5,797.3 597.4,798.4 599.1,801.9 600.3,805.3 599.1,808.8 596.8,811.1 595.7,811.6 596.2,815.7 596.8,820.3 596.6,826.0 595.1,830.6 593.9,832.9 589.9,833.2 585.9,834.6 582.4,836.4 579.6,838.1 576.1,839.8 572.1,840.4 569.8,839.3 571.5,837.5 568.6,836.4 566.9,833.5 569.8,832.9 567.5,831.8 570.9,829.5 569.8,827.7 573.8,828.3 577.3,826.6 573.8,826.0 570.9,825.4 573.2,823.1 576.7,820.8 573.2,821.4 569.8,819.1 568.6,816.8 571.5,816.2 570.4,813.4 569.2,810.5 570.9,808.8 575.0,808.2 579.0,807.6Z M623.9,890.5 623.9,886.4 626.2,885.3 622.7,884.1 619.8,882.4 615.8,881.8 611.8,880.1 608.3,878.9 606.0,876.1 607.7,874.3 605.4,873.2 607.2,870.9 611.8,869.7 615.8,868.6 618.7,869.7 622.1,870.9 625.6,870.3 628.5,870.9 627.9,867.4 626.7,864.0 626.2,860.0 629.0,859.4 630.2,862.3 634.8,863.4 638.8,862.8 641.7,861.7 639.4,860.5 642.8,858.8 646.3,857.1 648.6,854.8 649.5,851.3 649.2,848.5 652.0,846.2 655.5,845.0 661.2,842.1 M619.6,861.5 621.0,861.5 621.0,862.8 619.6,862.8Z M622.5,864.3 624.0,864.3 624.0,865.8 622.5,865.8Z M695.5,801.5 696.5,804.0 699.5,804.5 698.0,807.0 699.0,809.0 699.5,813.0 697.5,813.5 697.0,816.5 695.0,818.5 694.0,816.0 691.0,815.5 688.0,816.0 687.0,817.8 684.5,817.0 681.5,818.0 678.0,818.5 674.5,819.0 672.0,820.5 670.5,823.5 670.0,827.0 669.0,831.0 666.5,835.0 664.5,838.0 662.0,841.0 660.0,842.5 M699.5,813.0 702.0,813.5 704.0,816.0 705.5,817.5 M673.0,824.0 675.0,821.5 676.5,820.0 675.5,823.0 675.0,826.0 677.5,828.0 678.0,830.0 676.0,831.5 673.5,831.0 672.5,829.0Z M661.5,841.0 663.5,838.5 666.0,839.0 666.5,841.0 664.5,842.5 662.0,843.0Z M856.4,885.5 857.9,887.9 857.9,890.2"/>
</g>
<g fill="none" stroke="#000" stroke-width="1.4" stroke-linejoin="round" stroke-linecap="round">
<path d="M776.0,603.2 777.5,601.0 778.5,595.0 777.5,591.0 781.0,590.0 783.5,589.5 783.2,586.5 785.5,585.5 787.5,586.5 790.0,591.0 793.0,596.5 798.0,597.8 800.5,596.5 802.5,594.5 806.0,596.5 809.5,599.0 811.5,594.5 814.5,593.0 815.5,591.0 815.5,586.0 817.0,578.5 821.0,573.5 825.5,573.0 827.0,571.0 829.5,570.0 831.5,572.0 834.0,575.0 838.5,577.5 840.0,580.5 839.5,583.0 837.5,586.0 836.5,589.0 838.0,590.0 839.5,588.0 841.0,585.0 845.0,583.0 847.0,579.5 M836.8,589.8 833.5,593.0 836.0,594.0 835.0,598.0 833.8,600.5 835.0,606.0 840.0,608.5 842.5,613.0 844.8,616.5 842.0,621.5 839.5,626.0 838.0,629.0 839.5,633.0 841.5,637.0 842.5,640.0 M781.0,590.2 785.0,596.0 790.0,600.0 794.5,602.0 797.0,605.0 798.0,607.5 800.8,610.5 799.5,616.0 800.0,619.5 802.0,621.5 801.0,625.0 802.5,628.5 803.5,631.0 802.5,635.0 801.0,637.5 800.5,640.0 M776.0,603.2 770.0,600.8 765.0,599.5 763.0,600.0 763.8,604.0 763.0,609.0 760.0,610.0 M760.0,610.0 759.5,609.0 757.0,608.0 753.5,611.5 752.0,617.0 749.5,619.0 749.3,621.0 751.0,624.0 751.5,626.0 749.0,630.0 746.0,634.5 744.5,637.0 745.0,640.0 742.5,642.0 738.5,642.8 739.0,647.0 738.5,652.0 738.0,656.0 736.5,660.0 M736.5,660.0 734.0,664.5 732.0,668.5 735.0,670.0 735.8,674.0 734.5,676.8 731.5,676.8 728.0,676.5 725.5,678.0 723.0,682.0 721.5,685.0 720.5,688.5 722.0,693.0 721.5,698.0 723.0,704.0 722.2,709.0 721.5,712.0 724.0,714.0 726.5,716.5 727.0,718.5 725.5,721.5 722.5,722.2 723.0,725.0 724.5,728.0 725.0,731.0 724.0,735.0 722.0,737.5 720.0,738.0 718.5,742.5 719.5,745.5 718.5,750.0 M715.0,748.0 716.5,750.0 718.0,751.5 719.2,749.5 719.5,746.0 718.5,742.5 720.0,739.0 722.0,737.0 724.0,735.5 725.0,730.0 M696.5,801.8 700.0,801.2 704.0,801.5 706.0,801.0 M803.9,630.0 802.8,634.4 801.1,638.2 801.7,641.5 803.3,644.3 804.4,648.1 M838.0,630.0 840.7,635.5 843.5,642.1 845.1,646.5 844.6,650.3 842.4,650.9 842.9,654.7 841.8,657.5 843.5,659.1 841.3,661.9 843.5,664.6 845.1,665.7 844.6,670.7 846.8,672.3 848.8,674.5 848.4,677.8 846.2,680.6 844.6,681.7 846.8,684.4 850.1,687.2 853.4,690.5 855.6,694.3 853.9,699.3 851.2,703.7 847.3,707.5 844.6,711.4 840.2,716.9 834.7,722.4 829.2,728.4 M806.5,763.5 810.0,762.5 813.0,763.0 817.0,765.5 820.0,768.5 824.0,768.5 827.0,768.0 M831.5,743.5 830.5,746.5 830.0,749.5 829.5,755.0 829.0,759.5 831.8,762.8 830.0,764.5 827.5,766.5 827.0,768.0 829.0,771.0 828.5,776.0 830.5,780.0 832.0,784.0 832.5,786.5 M783.0,786.0 786.5,784.0 790.5,782.8 796.0,783.5 801.0,784.0 805.0,784.8 809.0,783.0 810.5,785.0 814.0,787.0 817.5,789.5 821.0,792.0 824.5,790.5 828.0,790.0 830.0,788.0 832.5,786.5 M832.5,786.5 835.0,788.0 838.0,787.5 840.0,789.0 841.0,792.0 844.0,790.0 847.0,790.0 850.0,792.5 851.5,794.5 851.5,799.0 850.0,801.5 851.5,804.0 M821.0,792.0 820.5,795.0 822.5,796.5 821.5,798.5 818.5,799.5 816.5,801.0 815.5,804.5 814.5,808.0 815.5,810.0 813.5,810.0 811.0,811.0 808.0,812.5 804.5,813.5 801.0,813.5 799.5,810.5 M783.5,796.5 788.0,799.5 794.0,799.5 795.5,801.5 794.5,805.0 794.5,808.0 797.0,808.5 799.5,810.5 M774.6,806.9 785.0,807.8 794.5,808.0 M588.2,798.4 585.9,801.3 582.4,803.6 581.3,805.9 583.0,808.2 585.9,810.5 588.8,807.6 591.6,809.3 594.5,811.6 596.2,810.5 M687.0,817.8 687.8,821.0 687.0,824.5 684.5,827.5 686.0,830.0 685.0,833.0 683.5,836.0 680.0,837.0 679.5,839.5 680.5,842.0 680.0,845.0 678.5,845.5 M664.5,841.5 668.5,840.5 672.0,841.0 675.0,842.5 677.5,844.0 678.5,845.5 680.0,848.0 681.5,851.0 682.0,853.0 680.0,855.0 678.5,856.5 678.0,860.0 679.5,861.5 681.5,861.5 682.5,859.5 681.5,857.0 680.0,855.0 M655.5,845.0 657.2,848.5 660.0,849.2 662.5,850.5 665.0,852.0 667.0,854.5 669.5,856.0 671.0,854.5 671.5,857.0 674.0,859.0 676.5,860.5 678.5,860.0 M681.5,861.5 684.0,864.0 688.0,865.5 692.0,867.0 694.5,868.0 693.0,872.0 691.5,876.5 690.5,881.0 690.0,882.5 693.0,881.5 696.5,880.0 700.0,880.5 703.5,881.5 706.0,882.5 707.0,884.0 709.0,882.5 712.0,882.0 714.5,883.0 718.0,882.0 722.0,881.0 725.0,880.5 728.0,882.5 729.0,881.0 727.5,879.0 726.0,877.0 726.5,874.5 730.0,873.0 732.0,871.5 734.5,871.0 732.0,869.0 729.0,866.0 726.0,863.0 724.0,860.0 723.5,857.0 721.5,854.0 724.0,853.0 728.0,851.0 732.0,849.0 736.0,847.0 737.5,845.5 739.5,847.0 741.5,846.0 M690.0,882.5 687.0,883.0 685.5,885.5 683.5,888.0 682.0,890.3 M706.0,882.5 704.0,884.0 704.0,887.0 706.5,889.0 708.0,890.3 M707.0,884.0 708.0,887.5 710.5,889.5 714.5,889.0 718.0,888.0 721.5,887.5 722.5,889.5 723.0,890.3 M737.0,813.0 737.5,815.0 736.5,817.0 737.5,820.0 736.0,823.5 737.5,826.5 739.0,829.0 739.5,833.0 739.0,837.5 740.5,840.0 741.5,843.0 741.5,846.0 745.0,848.0 749.0,849.5 751.0,850.5 751.5,853.0 753.0,855.0 755.0,852.5 757.5,853.0 759.5,854.5 760.0,853.5 761.5,855.5 764.0,857.0 766.5,859.0 768.0,861.5 770.0,863.0 771.5,861.0 773.5,862.5 775.0,865.0 776.5,864.0 778.5,863.0 780.0,862.5 M734.5,871.0 737.5,871.0 740.0,869.5 742.0,867.5 745.5,868.5 749.0,869.5 752.0,870.0 754.5,870.5 755.5,869.0 758.5,868.5 761.0,867.0 763.0,864.5 765.5,862.5 768.0,861.5 M754.5,870.5 755.0,874.0 756.0,877.0 758.5,879.0 762.0,880.0 765.5,879.5 768.0,878.0 771.0,876.5 775.0,876.0 777.5,874.5 779.0,872.0 780.0,871.0 M756.0,877.0 754.5,880.0 752.0,880.5 752.5,883.0 751.5,886.0 750.5,888.5 748.5,889.0 748.0,890.3 M813.5,808.7 815.1,808.5 815.4,810.3 813.7,810.4Z M799.4,810.4 800.4,813.1 801.3,818.0 802.8,822.8 803.1,826.6 800.4,828.0 797.5,830.9 799.9,833.2 800.9,836.1 800.4,838.9 801.8,842.7 803.7,846.5 804.2,849.4 803.2,851.8 800.4,853.2 797.5,856.5 795.2,859.4 793.7,861.7 794.7,864.6 795.2,867.0 M800.4,838.9 803.2,838.5 805.6,836.1 809.9,835.6 814.6,835.6 819.4,836.6 824.1,837.5 827.0,839.4 828.9,840.4 831.7,838.9 835.5,841.3 838.4,838.9 840.3,841.3 844.1,840.8 846.0,840.8 848.4,843.2 849.3,840.8 847.9,838.0 849.3,835.1 851.7,833.7 855.5,833.1 M851.7,803.8 853.1,807.6 855.5,810.0 857.4,812.3 856.9,814.2 860.2,814.7 862.1,817.1 863.6,819.0 861.2,821.8 858.3,822.8 856.0,821.4 853.6,822.8 854.5,825.6 855.5,828.5 856.0,832.3 857.9,834.2 859.8,833.7 861.2,831.8 864.0,831.8 866.9,830.9 871.6,830.6 M770.0,862.7 771.9,860.8 774.3,864.6 775.7,865.5 777.6,863.2 780.4,863.2 781.9,864.1 784.2,862.7 787.6,863.2 789.9,865.5 792.8,866.5 795.2,867.0 M792.8,866.5 791.4,870.3 789.9,873.6 M770.0,876.9 772.8,875.5 775.7,876.0 778.1,874.1 779.5,871.7 782.3,871.7 785.2,872.2 787.6,874.1 789.9,873.6 792.3,876.0 795.6,877.4 793.3,879.3 790.4,881.2 788.5,885.0 786.1,889.8 M795.6,877.4 798.5,876.9 802.3,878.4 806.6,878.4 809.4,880.6 812.7,878.8 816.5,877.9 818.4,876.0 821.3,874.1 824.6,873.6 827.9,872.7 830.8,874.1 833.6,876.0 836.5,876.9 839.3,878.8 838.9,882.6 841.2,885.0 841.7,887.9 845.0,889.8 M821.8,874.6 824.1,877.9 825.6,881.2 827.9,885.0 830.8,888.3 831.7,890.2"/>
</g>
<g id="volcano" stroke="#000" fill="none" stroke-linecap="butt"><path d="M495.6,664.8 498.8,672.0 M503.3,664.8 503.3,672.0 M511.2,664.8 508.4,672.0 M497.9,672.0 509.2,672.0" stroke-width="2.1"/><path d="M498.8,672.0 495.3,682.5 M508.4,672.0 512.2,683.0" stroke-width="1.1"/><path d="M494.4,683.3 512.6,683.3" stroke-width="3.0"/></g>
<rect x="502.0" y="681.8" width="4.0" height="3.0" fill="#8f5605"/>
</g>
<rect id="frame" x="359.5" y="321.5" width="512.0" height="569.0" fill="none" stroke="#000" stroke-width="1"/>
</svg>
<div id="logo-text">Met Office</div>
<div class="t" style="left:386.67px;top:28.78px;font-size:26.25px;transform:scaleX(1.0809);">Probability of Exceeding 2.0 mg m</div>
<div class="t" style="left:819.40px;top:26.65px;font-size:18.38px;transform:scaleX(1.1718);">&minus;3</div>
<div class="t" style="left:497.72px;top:64.65px;font-size:23.33px;transform:scaleX(1.0367);">From FL050 to FL100</div>
<div class="t" style="left:492.87px;top:90.85px;font-size:23.33px;transform:scaleX(0.9016);">For EYJAFJALLAJOKULL</div>
<div class="t" style="left:448.49px;top:117.85px;font-size:23.33px;transform:scaleX(1.0602);">Valid at 2100 UTC 28/02/2026</div>
<div class="t" style="left:367.25px;top:159.65px;font-size:14.58px;transform:scaleX(1.0676);">This chart displays QVA compliant probabilistic data from VAAC London</div>
<div class="t" style="left:494.10px;top:192.75px;font-size:14.58px;transform:scaleX(1.0437);">Issue Time: 2100 UTC 28 Feb 2026</div>
<div class="t" style="left:512.84px;top:215.28px;font-size:26.25px;transform:scaleX(0.9448);color:#dd0000;">TEST TEST TEST</div>
<div class="t" style="left:278.57px;top:272.15px;font-size:14.58px;transform:scaleX(1.0474);">0.1</div>
<div class="t" style="left:345.83px;top:272.15px;font-size:14.58px;transform:scaleX(1.0471);">10</div>
<div class="t" style="left:410.71px;top:272.15px;font-size:14.58px;transform:scaleX(1.0547);">20</div>
<div class="t" style="left:475.94px;top:272.15px;font-size:14.58px;transform:scaleX(1.0395);">30</div>
<div class="t" style="left:540.79px;top:272.15px;font-size:14.58px;transform:scaleX(1.0493);">40</div>
<div class="t" style="left:605.93px;top:272.15px;font-size:14.58px;transform:scaleX(1.0406);">50</div>
<div class="t" style="left:670.65px;top:272.15px;font-size:14.58px;transform:scaleX(1.0584);">60</div>
<div class="t" style="left:735.82px;top:272.15px;font-size:14.58px;transform:scaleX(1.0475);">70</div>
<div class="t" style="left:800.74px;top:272.15px;font-size:14.58px;transform:scaleX(1.0526);">80</div>
<div class="t" style="left:865.61px;top:272.15px;font-size:14.58px;transform:scaleX(1.0607);">90</div>
<div class="t" style="left:926.39px;top:272.15px;font-size:14.58px;transform:scaleX(1.0623);">100</div>
<div class="t" style="left:972.87px;top:272.15px;font-size:14.58px;transform:scaleX(1.0253);">(%)</div>
<div class="t" style="left:336.12px;top:294.32px;font-size:20.41px;transform:scaleX(1.0504);">40°W</div>
<div class="t" style="left:336.12px;top:896.32px;font-size:20.41px;transform:scaleX(1.0504);">40°W</div>
<div class="t" style="left:405.33px;top:294.32px;font-size:20.41px;transform:scaleX(1.0462);">30°W</div>
<div class="t" style="left:405.33px;top:896.32px;font-size:20.41px;transform:scaleX(1.0462);">30°W</div>
<div class="t" style="left:474.00px;top:294.32px;font-size:20.41px;transform:scaleX(1.0527);">20°W</div>
<div class="t" style="left:474.00px;top:896.32px;font-size:20.41px;transform:scaleX(1.0527);">20°W</div>
<div class="t" style="left:542.16px;top:294.32px;font-size:20.41px;transform:scaleX(1.0494);">10°W</div>
<div class="t" style="left:542.16px;top:896.32px;font-size:20.41px;transform:scaleX(1.0494);">10°W</div>
<div class="t" style="left:626.87px;top:294.32px;font-size:20.41px;transform:scaleX(1.0837);">0°</div>
<div class="t" style="left:626.87px;top:896.32px;font-size:20.41px;transform:scaleX(1.0837);">0°</div>
<div class="t" style="left:683.66px;top:294.32px;font-size:20.41px;transform:scaleX(1.0312);">10°E</div>
<div class="t" style="left:683.66px;top:896.32px;font-size:20.41px;transform:scaleX(1.0312);">10°E</div>
<div class="t" style="left:752.49px;top:294.32px;font-size:20.41px;transform:scaleX(1.0351);">20°E</div>
<div class="t" style="left:752.49px;top:896.32px;font-size:20.41px;transform:scaleX(1.0351);">20°E</div>
<div class="t" style="left:821.81px;top:294.32px;font-size:20.41px;transform:scaleX(1.0277);">30°E</div>
<div class="t" style="left:821.81px;top:896.32px;font-size:20.41px;transform:scaleX(1.0277);">30°E</div>
<div class="t" style="left:303.29px;top:445.72px;font-size:20.41px;transform:scaleX(1.0606);">75°N</div>
<div class="t" style="left:879.39px;top:445.72px;font-size:20.41px;transform:scaleX(1.0606);">75°N</div>
<div class="t" style="left:303.29px;top:561.22px;font-size:20.41px;transform:scaleX(1.0606);">70°N</div>
<div class="t" style="left:879.39px;top:561.22px;font-size:20.41px;transform:scaleX(1.0606);">70°N</div>
<div class="t" style="left:303.06px;top:651.22px;font-size:20.41px;transform:scaleX(1.0659);">65°N</div>
<div class="t" style="left:879.40px;top:651.22px;font-size:20.41px;transform:scaleX(1.0659);">65°N</div>
<div class="t" style="left:303.06px;top:725.72px;font-size:20.41px;transform:scaleX(1.0659);">60°N</div>
<div class="t" style="left:879.40px;top:725.72px;font-size:20.41px;transform:scaleX(1.0659);">60°N</div>
<div class="t" style="left:303.45px;top:789.72px;font-size:20.41px;transform:scaleX(1.0571);">55°N</div>
<div class="t" style="left:879.64px;top:789.72px;font-size:20.41px;transform:scaleX(1.0571);">55°N</div>
<div class="t" style="left:303.45px;top:846.12px;font-size:20.41px;transform:scaleX(1.0571);">50°N</div>
<div class="t" style="left:879.64px;top:846.12px;font-size:20.41px;transform:scaleX(1.0571);">50°N</div>
<div class="t" style="left:61.36px;top:962.65px;font-size:14.58px;transform:scaleX(1.0765);">© Met Office Crown Copyright</div>
</body>
</html>
